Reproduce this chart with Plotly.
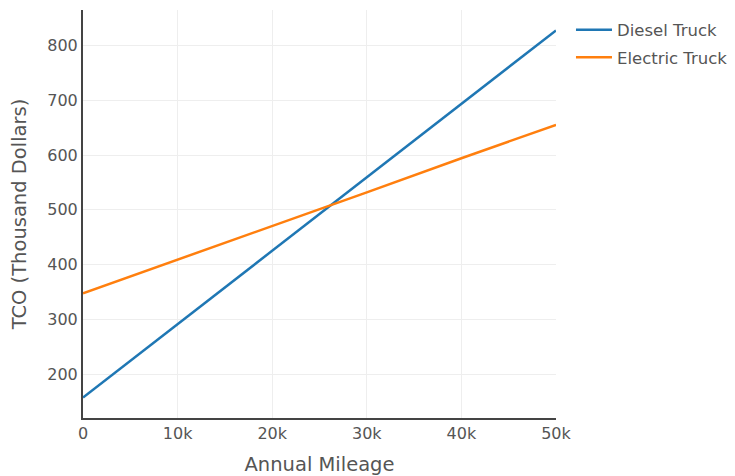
import plotly.graph_objects as go

mileage = [0, 10000, 20000, 30000, 40000, 50000]
diesel_tco = [158, 292, 426, 560, 693, 827]
electric_tco = [348, 409, 471, 532, 594, 655]

fig = go.Figure()
fig.add_trace(go.Scatter(x=mileage, y=diesel_tco, mode="lines", name="Diesel Truck",
                         legendgroup="d", line=dict(color="#1f77b4", width=2.5)))
fig.add_trace(go.Scatter(x=mileage, y=electric_tco, mode="lines", name="Electric Truck",
                         legendgroup="e", line=dict(color="#ff7f0e", width=2.5)))

fig.update_layout(
    template="plotly_white",
    width=719, height=476,
    margin=dict(l=75, r=171, t=2, b=66),
    font=dict(family="Verdana, DejaVu Sans, sans-serif", size=16, color="#555"),
    legend=dict(font=dict(size=16.5), xref="container", yref="container",
                x=0.783, y=0.9905, xanchor="left", yanchor="top",
                itemwidth=36, tracegroupgap=3),
)
fig.update_xaxes(title=dict(text="Annual Mileage", font=dict(size=19.5)),
                 showline=True, linecolor="#444", linewidth=2, automargin=False,
                 gridcolor="#eee", zeroline=False)
fig.update_yaxes(title=dict(text="TCO (Thousand Dollars)", font=dict(size=19.5)),
                 showline=True, linecolor="#444", linewidth=2, automargin=False,
                 gridcolor="#eee", zeroline=False)

fig.write_html("out.html")
